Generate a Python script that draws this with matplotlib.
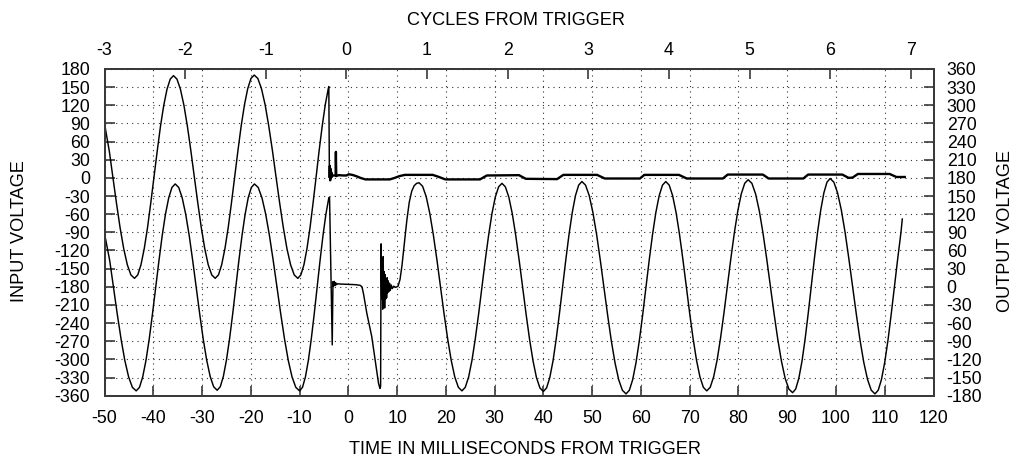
import numpy as np
import matplotlib
matplotlib.use("Agg")
import matplotlib.pyplot as plt

plt.rcParams['font.family'] = ['Liberation Sans', 'DejaVu Sans']
plt.rcParams['axes.unicode_minus'] = False

# ---------------- data ----------------
# INPUT VOLTAGE trace (left axis), time in ms
input_t = [
    -50.0, -49.01, -48.28, -47.54, -46.80, -46.06, -45.32, -44.59, -43.85,
    -43.18, -42.52, -41.85, -41.18, -40.52, -39.85, -39.18, -38.52, -37.85, -37.18, -36.52, -35.85,
    -35.14, -34.43, -33.71, -33.0, -32.29, -31.58, -30.86, -30.15, -29.44, -28.73, -28.01, -27.3,
    -26.63, -25.97, -25.3, -24.63, -23.97, -23.3, -22.63, -21.97, -21.3, -20.63, -19.97, -19.3,
    -18.55, -17.81, -17.06, -16.32, -15.57, -14.83, -14.08, -13.33, -12.59, -11.84, -11.1, -10.35,
    -9.73, -9.1, -8.48, -7.85, -7.23, -6.6, -5.98, -5.35, -4.73, -4.1, -4.0,
    -3.88, -3.8, -3.72, -3.64, -3.56, -3.48, -3.4, -3.2, -2.6, -2.55, -2.48, -2.0, -1.0, -0.4,
    0.1, 0.8, 1.6, 2.5, 3.5, 8.5, 9.5, 10.5, 11.6, 17.3, 18.6, 19.9, 27.0, 28.4, 35.0, 36.4,
    42.8, 44.1, 51.0, 52.6, 59.8, 60.7, 67.8, 69.4, 76.8, 77.8, 85.0, 86.2, 93.3, 94.3,
    101.3, 102.6, 103.4, 104.5, 111.0, 112.4, 114.1,
]
input_v = [
    90, 44, 1, -42, -82.5, -117, -143.6, -160.3, -166,
    -160.3, -143.6, -116.9, -82.3, -41.9, 1.5, 44.9, 85.3, 119.9, 146.6, 163.3, 169,
    163.3, 146.6, 119.9, 85.3, 44.9, 1.5, -41.9, -82.3, -116.9, -143.6, -160.3, -166,
    -160.3, -143.5, -116.8, -82, -41.5, 2, 45.5, 86, 120.8, 147.5, 164.3, 170,
    164.3, 147.5, 120.8, 86, 45.5, 2, -41.5, -82, -116.8, -143.5, -160.3, -166,
    -160.3, -143.5, -116.8, -82, -41.5, 2, 45.5, 86, 120.8, 148, 151,
    2, 20, -4, 15, 0, 9, 2, 4, 4, 43, 3, 4.5, 4, 4,
    6, 5, 3, 0, -2.5, -2.5, 0, 3, 5, 5, 1.5, -2.5, -2.5, 4, 4.5, -1.5,
    -2, 5, 5, -1, -1, 5, 5, -1, -1, 5.5, 5.5, -1, -1, 5.5,
    5.5, 0, 0.5, 6.5, 6.5, 1.5, 1.5,
]

# OUTPUT VOLTAGE trace (right axis), time in ms
output_t = [
    -50.0, -48.93, -48.15, -47.38, -46.6, -45.83, -45.05, -44.28, -43.5,
    -42.83, -42.17, -41.5, -40.83, -40.17, -39.5, -38.83, -38.17, -37.5, -36.83, -36.17, -35.5,
    -34.78, -34.07, -33.35, -32.63, -31.92, -31.2, -30.48, -29.77, -29.05, -28.33, -27.62, -26.9,
    -26.26, -25.63, -24.99, -24.35, -23.71, -23.08, -22.44, -21.8, -21.16, -20.53, -19.89, -19.25,
    -18.48, -17.71, -16.94, -16.17, -15.40, -14.63, -13.85, -13.08, -12.31, -11.54, -10.77, -10.0,
    -9.4, -8.8, -8.2, -7.6, -7.0, -6.4, -5.8, -5.2, -4.6, -4.0, -3.85,
    -3.3, -3.15, -3.05, -2.9, -2.75, -2.6, -2.4, -2.2, -1.7, 0.0, 1.5, 2.4, 2.8,
    3.1, 3.8, 4.8, 5.7, 6.2, 6.5, 6.62, 6.72, 6.85, 6.95, 7.05, 7.15, 7.25, 7.35, 7.45,
    7.55, 7.65, 7.75, 7.85, 7.95, 8.05, 8.15, 8.3, 8.45, 8.6, 8.8, 9.0, 9.3, 9.7, 10.2,
    10.6, 11.0, 11.5, 12.0, 12.5, 13.0, 13.5, 14.0, 14.5,
    15.23, 15.97, 16.7, 17.43, 18.17, 18.9, 19.63, 20.37, 21.1, 21.83, 22.57, 23.3,
    23.98, 24.67, 25.35, 26.03, 26.72, 27.4, 28.08, 28.77, 29.45, 30.13, 30.82, 31.5,
    32.21, 32.92, 33.63, 34.33, 35.04, 35.75, 36.46, 37.17, 37.88, 38.58, 39.29, 40.0,
    40.66, 41.32, 41.98, 42.63, 43.29, 43.95, 44.61, 45.27, 45.93, 46.58, 47.24, 47.9,
    48.65, 49.41, 50.16, 50.92, 51.67, 52.43, 53.18, 53.93, 54.69, 55.44, 56.2, 56.95,
    57.63, 58.31, 58.99, 59.67, 60.35, 61.03, 61.70, 62.38, 63.06, 63.74, 64.42, 65.1,
    65.8, 66.5, 67.2, 67.9, 68.6, 69.3, 70.0, 70.7, 71.4, 72.1, 72.8, 73.5,
    74.21, 74.92, 75.63, 76.33, 77.04, 77.75, 78.46, 79.17, 79.88, 80.58, 81.29, 82.0,
    82.76, 83.52, 84.28, 85.03, 85.79, 86.55, 87.31, 88.07, 88.83, 89.58, 90.34, 91.1,
    91.74, 92.38, 93.03, 93.67, 94.31, 94.95, 95.59, 96.23, 96.88, 97.52, 98.16, 98.8,
    99.57, 100.33, 101.1, 101.87, 102.63, 103.4, 104.17, 104.93, 105.7, 106.47, 107.23, 108.0,
    108.67, 109.33, 110.0, 110.67, 111.33, 112.0, 112.67, 113.33, 113.6,
]
output_v = [
    88.4, 43.3, -1, -45.3, -86.5, -121.9, -149.1, -166.2, -172,
    -166.2, -149.1, -121.9, -86.5, -45.3, -1, 43.3, 84.5, 119.9, 147.1, 164.2, 170,
    164.2, 147.2, 120, 84.75, 43.7, -0.5, -44.7, -85.75, -121, -148.2, -165.2, -171,
    -165.2, -148.2, -121, -85.75, -44.7, -0.5, 43.7, 84.75, 120, 147.2, 164.2, 170,
    164.2, 147.1, 119.9, 84.5, 43.3, -1, -45.3, -86.5, -121.9, -149.1, -166.2, -172,
    -166.2, -149.1, -121.9, -86.5, -45.3, -1, 43.3, 84.5, 119.9, 147.1, 148,
    -96, 8.5, 1, 9, 2, 7, 3.5, 5, 4.6, 4, 3.5, 2.5, 0,
    -11, -44, -82, -132, -160, -168, -164, 71, -20, 45, -37, 50, -30, 25, -35,
    20, -20, 12, -18, 15, -10, 10, -8, 6, -6, 3, -3, 1, -1, 1,
    12, 35, 72, 110, 140, 158, 167, 171, 172,
    166.2, 149, 121.6, 86, 44.5, 0, -44.5, -86, -121.6, -149, -166.2, -172,
    -166.2, -149, -121.8, -86.25, -44.9, -0.5, 43.9, 85.25, 120.8, 148, 165.2, 171,
    165.2, 148, 120.6, 85, 43.5, -1, -45.5, -87, -122.6, -150, -167.2, -173,
    -167.1, -149.8, -122.2, -86.25, -44.4, 0.5, 45.4, 87.25, 123.2, 150.8, 168.1, 174,
    168, 150.5, 122.6, 86.25, 44, -1.5, -47, -89.25, -125.6, -153.5, -171, -177,
    -171, -153.5, -125.6, -89.25, -47, -1.5, 44, 86.25, 122.6, 150.5, 168, 174,
    168.1, 150.8, 123.3, 87.5, 45.8, 1, -43.8, -85.5, -121.3, -148.8, -166.1, -172,
    -166.1, -148.6, -120.9, -84.75, -42.7, 2.5, 47.7, 89.75, 125.9, 153.6, 171.1, 177,
    171, 153.4, 125.4, 89, 46.6, 1, -44.6, -87, -123.4, -151.4, -169, -175,
    -169, -151.3, -123.1, -86.5, -43.8, 2, 47.8, 90.5, 127.1, 155.3, 173, 179,
    172.9, 155.1, 126.8, 90, 47.1, 1, -45.1, -88, -124.8, -153.1, -170.9, -177,
    -170.9, -153.1, -124.8, -88, -45.1, 1, 47.1, 90, 112,
]

x_ticks = list(range(-50, 121, 10))
left_ticks = list(range(-360, 181, 30))
right_ticks = list(range(-180, 361, 30))
cycle_ticks = list(range(-3, 8))
ms_per_cycle = 16.535
cycle_zero_ms = -0.39

# ---------------- figure ----------------
fig = plt.figure(figsize=(10.17, 4.59), dpi=100)
ax = fig.add_axes([104.5 / 1017, 1 - 395.7 / 459, 829.0 / 1017, 326.7 / 459])
ax2 = ax.twinx()

spine_c = '#3a3a3a'
tick_fs = 12.8

ax.set_xlim(-50, 120)
ax.set_ylim(-360, 180)
ax2.set_ylim(-180, 360)
ax.set_xticks(x_ticks)
ax.set_yticks(left_ticks)
ax2.set_yticks(right_ticks)

ax.set_axisbelow(True)
ax.grid(True, linestyle=(0, (1, 3.8)), linewidth=0.8, color='#333333')

it = np.array(input_t)
iv = np.array(input_v)
pre = it <= -3.88
ax.plot(it[pre], iv[pre], color='black', lw=1.05)
post = it >= -3.88
ax.plot(it[post], iv[post], color='black', lw=1.7)

ax2.plot(output_t, output_v, color='black', lw=1.05)

for a in (ax, ax2):
    for s in a.spines.values():
        s.set_color(spine_c)
        s.set_linewidth(1.4)

ax.tick_params(axis='x', direction='in', length=7, width=1.2, color=spine_c,
               labelsize=tick_fs, pad=10.5, top=False, bottom=True)
ax.tick_params(axis='y', direction='in', length=7, width=1.2, color=spine_c,
               labelsize=tick_fs, pad=10.4, left=True, right=False)
ax2.tick_params(axis='y', direction='in', length=7, width=1.2, color=spine_c,
                labelsize=tick_fs, pad=9.5, left=False, right=True)

secax = ax.secondary_xaxis(
    'top',
    functions=(lambda x: (x - cycle_zero_ms) / ms_per_cycle,
               lambda c: c * ms_per_cycle + cycle_zero_ms))
secax.set_xticks(cycle_ticks)
secax.tick_params(direction='in', length=7, width=1.2, color=spine_c,
                  labelsize=tick_fs, pad=7.5)
secax.spines['top'].set_color(spine_c)
secax.spines['top'].set_linewidth(1.4)

lab_fs = 13.1
fig.text(516 / 1017, 1 - 20.5 / 459, 'CYCLES FROM TRIGGER', ha='center', va='center', fontsize=lab_fs)
fig.text(525 / 1017, 1 - 449 / 459, 'TIME IN MILLISECONDS FROM TRIGGER', ha='center', va='center', fontsize=lab_fs)
fig.text(19.5 / 1017, 1 - 231 / 459, 'INPUT VOLTAGE', ha='center', va='center', rotation=90, fontsize=lab_fs)
fig.text(1005 / 1017, 1 - 231 / 459, 'OUTPUT VOLTAGE', ha='center', va='center', rotation=90, fontsize=lab_fs)

fig.savefig('out.png', dpi=100)
